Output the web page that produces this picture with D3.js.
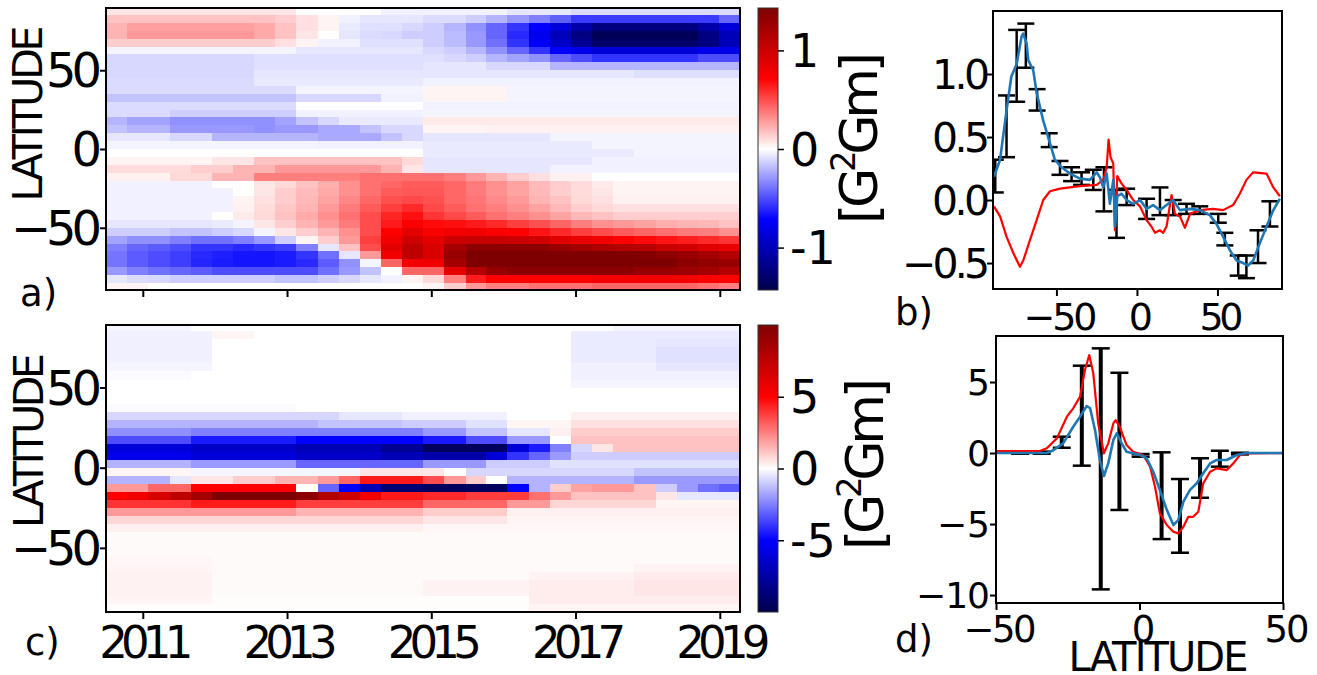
<!DOCTYPE html>
<html><head><meta charset="utf-8">
<script src="https://cdn.jsdelivr.net/npm/d3@7"></script>
<style>body{margin:0;background:#fff}svg text{font-family:"DejaVu Sans",sans-serif;fill:#000}</style>
</head><body><svg id="chart" width="1317" height="675"></svg>
<script>
// ---- data ----
const years = [2010.64,2010.93,2011.22,2011.52,2011.81,2012.10,2012.40,2012.69,2012.98,2013.27,2013.57,2013.86,2014.15,2014.45,2014.74,2015.03,2015.32,2015.62,2015.91,2016.20,2016.50,2016.79,2017.08,2017.38,2017.67,2017.96,2018.26,2018.55,2018.84,2019.14];
const lats = [87.5,82.5,77.5,72.5,67.5,62.5,57.5,52.5,47.5,42.5,37.5,32.5,27.5,22.5,17.5,12.5,7.5,2.5,-2.5,-7.5,-12.5,-17.5,-22.5,-27.5,-32.5,-37.5,-42.5,-47.5,-52.5,-57.5,-62.5,-67.5,-72.5,-77.5,-82.5,-87.5];
const yearTicks = [2011,2013,2015,2017,2019];
const latTicks = [50,0,-50];
const cbTicksA = [1,0,-1];
const cbTicksC = [5,0,-5];
const cbMaxA = 1.43, cbMaxC = 10;

const aValues = [
[.07,.07,.07,.07,.07,.07,.07,.07,.07,0,0,0,0,-.04,-.04,-.04,-.04,-.04,-.04,-.07,-.07,-.07,-.1,-.1,-.1,-.1,-.1,-.1,-.1,-.1],
[.17,.17,.17,.17,.17,.17,.17,.17,.14,.09,.03,-.04,-.07,-.07,-.07,-.1,-.1,-.14,-.21,-.29,-.36,-.45,-.55,-.55,-.55,-.55,-.55,-.55,-.55,-.43],
[.21,.27,.27,.27,.27,.27,.27,.24,.17,.09,.03,-.06,-.09,-.09,-.11,-.14,-.21,-.31,-.43,-.57,-.72,-.86,-1.07,-1.22,-1.22,-1.22,-1.22,-1.22,-1.07,-.86],
[.21,.29,.29,.29,.29,.29,.29,.24,.17,.07,0,-.07,-.1,-.11,-.14,-.14,-.19,-.29,-.43,-.6,-.79,-1,-1.22,-1.39,-1.39,-1.39,-1.39,-1.39,-1.22,-1],
[.14,.14,.14,.14,.14,.14,.14,.14,.09,.03,-.04,-.04,-.09,-.09,-.09,-.14,-.19,-.29,-.4,-.57,-.74,-.93,-1.14,-1.32,-1.32,-1.32,-1.32,-1.32,-1.22,-1],
[-.03,-.03,-.03,-.03,-.03,-.03,-.03,-.03,-.03,-.07,-.07,-.07,-.07,-.07,-.07,-.11,-.14,-.21,-.31,-.43,-.57,-.72,-.79,-.86,-.86,-.86,-.86,-.86,-.79,-.79],
[-.11,-.11,-.11,-.11,-.11,-.11,-.11,-.09,-.09,-.09,-.09,-.09,-.09,-.09,-.09,-.09,-.11,-.14,-.21,-.26,-.31,-.43,-.5,-.57,-.57,-.57,-.57,-.57,-.5,-.5],
[-.11,-.11,-.11,-.11,-.11,-.11,-.11,-.09,-.09,-.09,-.09,-.09,-.09,-.09,-.09,-.07,-.07,-.07,-.11,-.11,-.11,-.21,-.21,-.21,-.21,-.21,-.21,-.21,-.21,-.21],
[-.11,-.11,-.11,-.11,-.11,-.11,-.11,-.07,-.07,-.07,-.07,-.07,-.07,-.07,-.07,-.07,-.07,-.07,-.07,-.07,-.07,-.07,-.07,-.07,-.07,-.09,-.09,-.09,-.09,-.09],
[-.1,-.1,-.1,-.1,-.1,-.1,-.1,-.06,-.06,-.06,-.06,-.06,-.06,-.06,-.06,-.04,-.04,-.04,-.04,-.04,-.04,-.04,-.04,-.04,-.04,-.04,-.04,-.04,-.04,-.04],
[-.1,-.1,-.1,-.1,-.1,-.1,-.1,-.1,-.1,-.03,-.03,-.03,-.03,-.03,-.03,.03,.03,.03,.03,-.03,-.03,-.03,-.03,-.03,-.03,-.03,-.03,-.03,-.03,-.03],
[-.17,-.17,-.17,-.17,-.17,-.17,-.17,-.17,-.17,-.11,-.11,-.11,-.11,-.04,-.04,.03,.03,.03,.03,-.03,-.03,-.03,-.03,-.03,-.03,-.03,-.03,-.03,-.03,-.03],
[-.1,-.1,-.1,-.1,-.1,-.1,-.1,-.1,-.1,0,0,0,0,0,0,-.04,-.04,-.04,-.04,-.04,-.04,-.04,-.04,-.04,-.04,-.04,-.04,-.04,-.04,-.04],
[-.1,-.1,-.1,-.14,-.14,-.14,-.14,-.14,-.14,-.04,-.04,-.04,-.04,-.04,-.04,-.03,-.03,-.03,-.03,-.03,-.03,-.03,-.03,-.03,-.03,-.03,-.03,-.03,-.03,-.03],
[-.21,-.26,-.26,-.31,-.31,-.31,-.31,-.31,-.26,-.17,-.11,-.06,-.06,-.06,-.06,.06,.06,.06,.06,.06,.06,.06,.06,.06,.06,.06,.06,.06,.06,.06],
[-.17,-.21,-.21,-.29,-.29,-.29,-.29,-.31,-.29,-.29,-.24,-.24,-.17,-.11,-.11,.03,.03,.03,.04,.04,.04,.04,.04,.04,.04,.04,.04,.04,.04,.04],
[-.07,-.07,-.07,-.11,-.11,-.21,-.21,-.21,-.21,-.21,-.24,-.24,-.24,-.17,-.11,-.07,-.07,-.07,-.07,-.07,-.07,-.03,-.03,-.03,-.03,-.03,-.03,-.03,-.03,-.03],
[-.03,-.03,-.03,-.03,-.03,-.03,-.03,-.03,-.03,-.03,-.04,-.04,-.04,-.04,-.04,-.06,-.06,-.06,-.06,-.06,-.06,-.06,-.06,-.03,-.03,-.03,-.03,-.03,-.03,-.03],
[0,0,0,0,0,0,0,0,0,0,0,0,0,0,0,-.06,-.06,-.06,-.06,-.06,-.06,-.06,-.06,-.06,-.06,-.03,-.03,-.03,-.03,-.03],
[.03,.03,.03,.03,.03,.07,.07,.17,.17,.17,.17,.17,.17,.17,.11,-.07,-.07,-.07,-.07,-.07,-.07,-.07,-.07,-.04,-.04,-.04,-.04,-.04,-.04,-.04],
[.1,.1,.1,.1,.14,.14,.21,.21,.29,.29,.29,.29,.29,.21,.07,-.07,-.07,-.07,-.07,-.07,-.07,-.04,-.04,-.04,-.04,-.04,-.04,-.04,-.04,-.04],
[.04,.04,.04,.11,.11,.21,.21,.36,.36,.36,.36,.36,.4,.4,.4,.4,.36,.29,.21,.14,.09,.04,.04,0,0,0,0,0,0,0],
[-.04,-.04,-.04,-.04,-.04,0,0,.07,.11,.17,.23,.31,.4,.43,.46,.46,.43,.37,.31,.26,.19,.14,.1,.06,.03,.03,.03,.03,.03,.03],
[-.04,-.04,-.04,-.04,-.04,-.04,0,.07,.14,.19,.24,.31,.4,.46,.47,.47,.43,.37,.31,.26,.2,.14,.1,.07,.03,.03,.03,.03,.03,.03],
[-.04,-.04,-.04,-.04,-.04,-.04,.03,.09,.14,.2,.26,.34,.43,.49,.51,.49,.43,.39,.33,.29,.21,.17,.11,.09,.04,.04,.04,.04,.04,.04],
[-.04,-.04,-.04,-.04,-.04,-.04,.04,.1,.16,.21,.29,.37,.46,.54,.6,.51,.46,.4,.36,.31,.26,.2,.14,.11,.09,.09,.09,.09,.09,.09],
[-.04,-.04,-.04,-.04,-.04,0,.06,.11,.17,.24,.31,.4,.5,.61,.67,.57,.51,.46,.4,.36,.31,.26,.2,.17,.14,.14,.14,.14,.14,.14],
[-.07,-.07,-.07,-.07,-.07,-.06,-.03,.07,.14,.21,.29,.37,.5,.64,.74,.69,.67,.64,.6,.54,.49,.43,.36,.31,.29,.26,.23,.21,.2,.17],
[-.14,-.14,-.14,-.17,-.17,-.14,-.11,-.03,.07,.14,.21,.31,.5,.72,.86,.74,.79,.79,.74,.72,.66,.6,.54,.5,.46,.43,.4,.37,.36,.31],
[-.26,-.31,-.31,-.36,-.4,-.4,-.36,-.29,-.14,.03,.14,.29,.54,.79,.97,.86,1,1.03,1.03,1,.97,.89,.83,.79,.72,.69,.66,.63,.6,.57],
[-.36,-.43,-.46,-.5,-.57,-.57,-.6,-.57,-.54,-.36,-.07,.17,.5,.86,1.07,.93,1.22,1.36,1.36,1.36,1.36,1.29,1.22,1.17,1.14,1.12,1.03,.97,.89,.83],
[-.39,-.46,-.5,-.54,-.6,-.63,-.66,-.66,-.64,-.57,-.4,-.07,.29,.79,1.07,.93,1.29,1.43,1.43,1.43,1.43,1.43,1.43,1.43,1.43,1.4,1.36,1.29,1.22,1.14],
[-.39,-.46,-.5,-.54,-.61,-.64,-.66,-.66,-.64,-.6,-.46,-.31,-.03,.43,.79,.79,1.22,1.43,1.43,1.43,1.43,1.43,1.43,1.43,1.43,1.43,1.43,1.36,1.32,1.29],
[-.29,-.36,-.4,-.43,-.46,-.5,-.5,-.5,-.5,-.5,-.4,-.29,-.17,0,.43,.43,.86,1.14,1.29,1.36,1.36,1.36,1.36,1.36,1.36,1.29,1.29,1.26,1.22,1.14],
[-.07,-.1,-.11,-.14,-.14,-.14,-.14,-.14,-.17,-.17,-.14,-.11,-.07,-.04,.03,.11,.36,.64,.72,.72,.72,.72,.72,.79,.79,.79,.79,.79,.72,.72],
[.03,.03,0,0,0,0,0,0,0,0,0,0,0,0,0,.03,.14,.29,.36,.36,.4,.4,.4,.43,.43,.43,.43,.43,.4,.36]
];

const cValues = [
[-.2,-.2,-.2,-.2,0,0,0,0,0,0,0,0,0,0,0,0,0,0,0,0,0,0,0,0,-.2,-.2,-.2,-.2,-.2,-.2],
[-.3,-.3,-.3,-.3,-.3,.2,.2,0,0,0,0,0,0,0,0,0,0,0,0,0,0,0,-.4,-.4,-.4,-.4,-.4,-.4,-.4,-.4],
[-.3,-.3,-.3,-.3,-.3,0,0,0,0,0,0,0,0,0,0,0,0,0,0,0,0,0,-.4,-.4,-.4,-.4,-.5,-.5,-.5,-.5],
[-.3,-.3,-.3,-.3,-.3,0,0,0,0,0,0,0,0,0,0,0,0,0,0,0,0,0,-.4,-.4,-.4,-.4,-.6,-.6,-.6,-.6],
[-.3,-.3,-.3,-.3,-.3,0,0,0,0,0,0,0,0,0,0,0,0,0,0,0,0,0,-.4,-.4,-.4,-.4,-.6,-.6,-.6,-.6],
[-.2,-.2,-.2,-.2,-.2,0,0,0,0,0,0,0,0,0,0,0,0,0,0,0,0,0,-.3,-.3,-.3,-.3,-.5,-.5,-.5,-.5],
[-.1,-.1,-.1,-.1,0,0,0,0,0,0,0,0,0,0,0,0,0,0,0,0,0,0,-.3,-.3,-.3,-.3,-.3,-.3,-.3,-.3],
[0,0,0,0,0,0,0,0,0,0,0,0,0,0,0,0,0,0,0,0,0,0,-.2,-.2,-.2,-.2,-.2,-.2,-.2,-.2],
[0,0,0,0,0,0,0,0,0,0,0,0,0,0,0,0,0,0,0,0,0,0,0,0,0,0,0,0,0,0],
[0,0,0,0,0,0,0,0,0,0,0,0,0,0,0,0,0,0,0,0,0,0,0,0,0,0,0,0,0,0],
[-.1,-.1,-.1,-.1,-.1,-.1,-.1,-.1,-.1,0,0,0,0,0,0,0,0,0,0,0,0,0,0,0,0,0,0,0,0,0],
[-.8,-.8,-.8,-.8,-.8,-.8,-.8,-.8,-.8,-.8,-.8,-.5,-.5,-.5,-.3,-.3,-.3,-.3,-.3,0,0,0,.3,.3,.3,.3,.3,.3,.3,.3],
[-1.5,-1.5,-1.5,-1.5,-1.5,-1.5,-1.5,-1.5,-1.5,-1.5,-1.2,-1.2,-1.2,-1.2,-1,-1,-1,-.6,-.6,.2,.2,.2,.6,.6,.6,.6,.6,.6,.6,.6],
[-2.2,-2.2,-2.2,-2.2,-2.5,-2.5,-2.5,-2.5,-2.5,-2.5,-2.5,-2.5,-2.5,-2.5,-2.5,-2,-2,-1.2,-1.2,-.5,-.5,.3,1,1,1,1,1,1,1,1],
[-3.5,-3.5,-3.5,-3.5,-4.5,-4.5,-4.5,-4.5,-4.5,-5,-5,-5,-5,-5,-5,-4.5,-4.5,-3.5,-3.5,-2,-2,0,1.2,1.2,1.2,1.2,1.2,1.2,1.2,1.2],
[-6,-6,-6,-6,-6.5,-6.5,-6.5,-6.5,-6.5,-7,-7,-7,-7,-8,-8,-9.5,-9.5,-9.5,-9.5,-6,-4.5,-2.5,-.8,.5,1.2,1.2,1.2,1.2,1.2,1.2],
[-5.5,-5.5,-5.5,-5.5,-6,-6,-6,-6,-6,-6.5,-6.5,-6.5,-6.5,-7,-7,-7.5,-7.5,-7.5,-6,-4,-3,-2,-1,-1,-1,-1,-1,-1,-1,-1],
[-1.5,-1.5,-1.5,-1.5,-2,-2,-2,-2,-2,-3,-3,-3,-3,-3,-3,-2,-2,-2,-1,-1,-1,-.6,-.6,-.6,-.6,-.6,-.6,-.6,-.6,-.6],
[.2,.2,.2,.2,-.2,-.2,-.2,-.2,-.2,-.2,-.2,-.2,.5,.5,.5,.5,0,-.8,-.8,-.8,-.8,-.8,-.8,-.8,-.8,-1.2,-1.2,-1.2,-1.2,-1.2],
[-1.5,-1.5,-1.5,-.5,.5,.5,1,1,1.5,1.5,2,3,4.5,4.5,4.5,3.5,2,1,0,-1.5,-1.5,-1.5,-1.5,-1.5,-1.5,-2,-2,-2,-2,-2],
[2,2,3,3,5,5,5,5,5,0,-3,-5,-7,-9,-9,-9.5,-9.5,-9.5,-9.5,-5,-1.5,1,1.8,2,2,1.2,-1,-2,-2.8,-3.2],
[5,5.5,6.5,7.5,8.5,10,10,10,10,9.5,8,7,5.5,4.5,4.5,4.2,4.2,3.8,3.8,3.8,2.8,2,1.2,1.2,1.2,1.2,.5,-.5,-.5,-.5],
[4,4,4,4,4.5,4.5,4.5,4.5,4.5,3.8,3.8,3.8,3.8,3.8,3.8,3,3,3,3,2,2,.8,.8,.8,.8,.8,.2,.2,.2,.2],
[2,2,2,2,2,2,2,2,2,1.5,1.5,1.5,1.5,1.5,1.5,1,1,1,1,.3,.3,.3,.3,.3,.3,.3,.3,.3,.3,.3],
[.8,.8,.8,.8,.8,.8,.8,.8,.8,.8,.8,.8,.8,.8,.8,.5,.5,.5,.5,.2,.2,.2,.2,.2,.2,.2,.2,.2,.2,.2],
[.3,.3,.3,.3,.3,.3,.3,.3,.3,.3,.3,.3,.3,.3,.3,.15,.15,.15,.15,.15,.15,.15,.15,.15,.15,.15,.15,.15,.15,.15],
[.1,.1,.1,.1,.1,.1,.1,.1,.1,.1,.1,.1,.1,.1,.1,.1,.1,.1,.1,.1,.1,.1,.1,.1,.1,.1,.1,.1,.1,.1],
[.1,.1,.1,.1,.1,.1,.1,.1,.1,.1,.1,.1,.1,.1,.1,.1,.1,.1,.1,.1,.1,.1,.1,.1,.1,.1,.1,.1,.1,.1],
[.1,.1,.1,.1,.1,.1,.1,.1,.1,.1,.1,.1,.1,.1,.1,.1,.1,.1,.1,.1,.1,.1,.1,.1,.1,.1,.1,.1,.1,.1],
[.15,.15,.15,.15,.15,.1,.1,.1,.1,.1,.1,.1,.1,.1,.1,.1,.1,.1,.1,.1,.1,.1,.1,.1,.1,.1,.1,.1,.1,.1],
[.2,.2,.2,.2,.2,.1,.1,.1,.1,.1,.1,.1,.1,.1,.1,.1,.1,.1,.1,.1,.1,.1,.1,.1,.1,.25,.25,.25,.25,.25],
[.25,.25,.25,.25,.25,.1,.1,.1,.1,.1,.1,.1,.1,.1,.1,.1,.1,.1,.1,.1,.25,.25,.25,.25,.25,.4,.4,.4,.4,.4],
[.25,.25,.25,.25,.25,.1,.1,.1,.1,.1,.1,.1,.1,.1,.1,.25,.25,.25,.25,.25,.35,.35,.35,.35,.35,.5,.5,.5,.5,.5],
[.25,.25,.25,.25,.25,.1,.1,.1,.1,.1,.1,.1,.1,.1,.1,.25,.25,.25,.25,.25,.35,.35,.35,.35,.35,.5,.5,.5,.5,.5],
[.2,.2,.2,.2,.2,.05,.05,.05,.05,.05,.05,.05,.05,.05,.05,.05,.05,.05,.05,.05,.35,.35,.35,.35,.35,.35,.35,.35,.35,.35],
[.05,.05,.05,.05,.05,.05,.05,.05,.05,.05,.05,.05,.05,.05,.05,.05,.05,.05,.05,.05,.2,.2,.2,.2,.2,.2,.2,.2,.2,.2]
];

// panel b
const bBlueLat = [-88.8,-85,-81,-78,-74.7,-71.6,-70.6,-68.5,-67.5,-64.4,-62.3,-58.2,-54,-51,-46.8,-41.6,-35.4,-29.2,-25,-23,-20.9,-18.8,-16.8,-14.7,-13.5,-12.2,-9.5,-6.4,-2.3,1.9,6,10,14.3,18.4,22.5,26.7,33,39,45.3,49.4,53.5,57.8,61.9,66,69,72.2,76.4,80.5,84.7,88.8];
const bBlueVal = [0.185,0.32,0.71,0.98,1.08,1.30,1.32,1.24,1.11,1.03,0.85,0.63,0.45,0.32,0.26,0.21,0.17,0.16,0.22,0.18,0.1,0.21,-0.03,0.16,-0.21,0.03,0.05,0.0,-0.03,0.0,-0.07,-0.04,-0.08,-0.04,0.0,-0.08,-0.07,-0.08,-0.12,-0.19,-0.29,-0.4,-0.48,-0.5,-0.52,-0.48,-0.34,-0.21,-0.08,0.01];
const bRedLat = [-88.8,-85,-81,-76.8,-72.7,-70.6,-66.5,-62.3,-58.2,-54,-47.8,-35.4,-25,-20.9,-18.8,-17.6,-16.4,-14.7,-13.7,-12.2,-9.5,-6.4,-2.3,1.9,6,9,11.2,14.3,16.3,18.4,21.5,23.6,26.7,29.8,33,39,47.3,53.5,59.7,63.9,68,72.2,80.5,84.7,88.8];
const bRedVal = [-0.05,-0.13,-0.29,-0.42,-0.53,-0.48,-0.32,-0.16,0.0,0.07,0.09,0.11,0.12,0.16,0.26,0.48,0.34,0.29,-0.24,0.19,0.13,0.08,0.0,-0.05,-0.16,-0.21,-0.26,-0.24,-0.26,-0.21,0.04,-0.11,-0.13,-0.22,-0.11,-0.08,-0.07,-0.08,-0.04,0.05,0.16,0.22,0.21,0.1,0.03];
const bErrLat = [-88,-81,-74.7,-69,-62,-54.5,-47.8,-40.6,-34.4,-27.1,-20.5,-12.7,-6.4,6,14.3,22.5,30.8,39,50.5,54.6,62.9,68,75.2,82.6];
const bErrHi = [0.32,0.83,1.35,1.40,0.88,0.53,0.31,0.26,0.22,0.24,0.26,0.08,0.09,0.01,0.10,0.0,-0.03,-0.05,-0.11,-0.26,-0.44,-0.44,-0.24,-0.01];
const bErrLo = [0.06,0.34,0.78,1.05,0.71,0.42,0.20,0.15,0.12,0.08,-0.09,-0.30,-0.04,-0.15,-0.12,-0.12,-0.11,-0.11,-0.18,-0.36,-0.60,-0.62,-0.50,-0.21];
const bXTicks = [-50,0,50];
const bYTicks = [1.0,0.5,0.0,-0.5];

// panel d
const dBlueLat = [-50,-32.3,-30,-26.6,-23.1,-20.7,-18.4,-17.2,-15.5,-13.8,-12.4,-10.9,-9.1,-7.9,-6.2,-4.5,0.2,2.5,4.8,7.1,9.5,11.8,13.5,15.3,17.6,19.9,22.2,24.6,26.9,30.4,33.9,37.3,50];
const dBlueVal = [0,0,0.2,0.68,1.85,2.56,3.31,3.15,1.62,-0.49,-1.62,-0.73,0.92,1.39,0.68,0.09,-0.14,-0.37,-1.32,-2.6,-4.0,-5.07,-4.72,-3.43,-2.6,-2.14,-1.43,-0.73,-0.49,-0.49,-0.14,0,0];
const dRedLat = [-50,-34.7,-32.3,-28.8,-25.3,-23.1,-20.7,-19.0,-17.5,-16.1,-14.4,-12.4,-10.9,-9.1,-8.3,-6.9,-4.5,-2.2,1.3,3.7,5.4,7.1,9.5,11.8,13.5,15.3,17.0,18.7,20.5,22.2,24.6,26.9,30.4,32.7,35.0,37.3,50];
const dRedVal = [0.14,0.14,0.33,1.03,2.56,3.15,3.97,5.85,6.9,5.61,2.09,-0.02,0.68,2.09,2.32,1.85,0.56,0.09,-0.14,-0.96,-2.37,-4.25,-5.07,-5.54,-5.66,-5.19,-4.49,-4.49,-4.13,-2.14,-1.32,-1.08,-1.2,-0.73,-0.14,-0.02,0];
const dErrLat = [-41.6,-34.1,-27.1,-20.1,-13.5,-7.0,0.4,7.7,14.1,21.1,28,35];
const dErrHi = [0.05,0.1,1.15,6.15,7.37,5.65,-0.07,0.05,-1.83,-0.37,0.16,0.02];
const dErrLo = [-0.05,-0.05,0.37,-0.89,-9.6,-4.01,-0.26,-6.06,-7.02,-3.15,-0.96,-0.1];
const dXTicks = [-50,0,50];
const dYTicks = [5,0,-5,-10];

// ---- drawing ----
const svg = d3.select("#chart");
const fmtMinus = v => (v<0 ? "\u2212" : "") + Math.abs(v);

function txt(s, x, y, size, anchor, len, rot){
  const t = svg.append("text")
    .attr("transform", `translate(${x},${y})` + (rot ? " rotate(-90)" : ""))
    .attr("font-size", size).attr("text-anchor", anchor||"start").text(s);
  if (len) t.attr("textLength", len).attr("lengthAdjust","spacing");
  return t;
}
function seismic(V){
  return d3.scaleLinear().domain([-V,-V/2,0,V/2,V])
    .range(["#00004c","#0000ff","#ffffff","#ff0000","#7f0000"]).clamp(true);
}
const xT = d3.scaleLinear().domain([2010.49, 2019.28]).range([106, 740]);
const yA = d3.scaleLinear().domain([-89.5, 89.5]).range([290, 8]);
const yC = d3.scaleLinear().domain([-90, 89]).range([612, 325]);

function heat(values, yS, V, id){
  const top = yS.range()[1], bot = yS.range()[0];
  svg.append("clipPath").attr("id", id).append("rect")
    .attr("x", 106).attr("y", top).attr("width", 634).attr("height", bot-top);
  const col = seismic(V);
  const dt = years[1]-years[0], dl = lats[0]-lats[1];
  const g = svg.append("g").attr("clip-path", `url(#${id})`).attr("shape-rendering","crispEdges");
  values.forEach((row, j) => row.forEach((v, i) => {
    const x0 = Math.round(xT(years[i]-dt/2)), x1 = Math.round(xT(years[i]+dt/2));
    const y0 = Math.round(yS(lats[j]+dl/2)), y1 = Math.round(yS(lats[j]-dl/2));
    g.append("rect").attr("x", x0).attr("y", y0)
      .attr("width", x1-x0+1).attr("height", y1-y0+1).attr("fill", col(v));
  }));
  svg.append("rect").attr("x",106).attr("y",top).attr("width",634).attr("height",bot-top)
    .attr("fill","none").attr("stroke","#000").attr("stroke-width",2);
  const ya = svg.append("g").attr("transform","translate(106,0)")
    .call(d3.axisLeft(yS).tickValues(latTicks).tickSize(6).tickFormat(""));
  ya.select(".domain").remove();
  ya.selectAll("line").attr("stroke-width",2);
  latTicks.forEach(v => {
    const s = fmtMinus(v);
    txt(s, 102, yS(v)+17, 48, "end", s.length===1 ? null : (s.length===2 ? 56 : 91));
  });
  const xa = svg.append("g").attr("transform",`translate(0,${bot})`)
    .call(d3.axisBottom(xT).tickValues(yearTicks).tickSize(7).tickFormat(""));
  xa.select(".domain").remove();
  xa.selectAll("line").attr("stroke-width",2);
}
function colorbar(yS, V, ticks, id, labelY, labelX){
  const top = yS.range()[1], bot = yS.range()[0];
  const cb = d3.scaleLinear().domain([-V, V]).range([bot, top]);
  const grad = svg.append("defs").append("linearGradient").attr("id", id)
    .attr("x1",0).attr("y1",1).attr("x2",0).attr("y2",0);
  const col = seismic(V);
  [-1,-0.5,0,0.5,1].forEach(f => grad.append("stop").attr("offset", (f+1)/2).attr("stop-color", col(f*V)));
  svg.append("rect").attr("x",758).attr("y",top).attr("width",20).attr("height",bot-top)
    .attr("fill",`url(#${id})`).attr("stroke","#333").attr("stroke-width",1);
  const ax = svg.append("g").attr("transform","translate(778,0)")
    .call(d3.axisRight(cb).tickValues(ticks).tickSize(6).tickFormat(""));
  ax.select(".domain").remove();
  ax.selectAll("line").attr("stroke-width",1.5);
  ticks.forEach(v => txt(String(v), 790, cb(v)+16.5, 46, "start"));
  const t = txt("[G", labelX, labelY, 52, "middle", 172, true);
  t.append("tspan").attr("font-size", 34).attr("dy", -22).text("2");
  t.append("tspan").attr("dy", 22).text("Gm]");
}

heat(aValues, yA, cbMaxA, "clipA");
heat(cValues, yC, cbMaxC, "clipC");
colorbar(yA, cbMaxA, cbTicksA, "gradA", 138, 877);
colorbar(yC, cbMaxC, cbTicksC, "gradC", 464, 883);

yearTicks.forEach(v => txt(String(v), xT(v)+3.5, 658, 45, "middle", 94));
txt("LATITUDE", 42, 113.5, 41, "middle", 176, true);
txt("LATITUDE", 43, 440.5, 41, "middle", 175, true);

function linePanel(cfg){
  const {xS, yS, blueLat, blueVal, redLat, redVal, errLat, errHi, errLo, xTicks, yTicks, errW, capW} = cfg;
  const [x0,x1] = xS.range(), [y1,y0] = yS.range();
  svg.append("clipPath").attr("id", cfg.id).append("rect").attr("x",x0).attr("y",y0).attr("width",x1-x0).attr("height",y1-y0);
  const g = svg.append("g").attr("clip-path",`url(#${cfg.id})`);
  errLat.forEach((l,i) => {
    const x = xS(l);
    g.append("line").attr("x1",x).attr("x2",x).attr("y1",yS(errHi[i])).attr("y2",yS(errLo[i]))
      .attr("stroke","#000").attr("stroke-width",errW);
    [errHi[i], errLo[i]].forEach(v => g.append("line").attr("x1",x-capW/2).attr("x2",x+capW/2)
      .attr("y1",yS(v)).attr("y2",yS(v)).attr("stroke","#000").attr("stroke-width",2.5));
  });
  const line = d3.line().x(d => xS(d[0])).y(d => yS(d[1]));
  g.append("path").attr("d", line(redLat.map((l,i)=>[l,redVal[i]])))
    .attr("fill","none").attr("stroke","#ff0000").attr("stroke-width",2.2).attr("stroke-linejoin","round");
  g.append("path").attr("d", line(blueLat.map((l,i)=>[l,blueVal[i]])))
    .attr("fill","none").attr("stroke","#1f77b4").attr("stroke-width",2.6).attr("stroke-linejoin","round");
  svg.append("rect").attr("x",x0).attr("y",y0).attr("width",x1-x0).attr("height",y1-y0)
    .attr("fill","none").attr("stroke","#000").attr("stroke-width",2);
  const xa = svg.append("g").attr("transform",`translate(0,${y1})`)
    .call(d3.axisBottom(xS).tickValues(xTicks).tickSize(7).tickFormat(""));
  xa.select(".domain").remove(); xa.selectAll("line").attr("stroke-width",2);
  const ya = svg.append("g").attr("transform",`translate(${x0},0)`)
    .call(d3.axisLeft(yS).tickValues(yTicks).tickSize(6).tickFormat(""));
  ya.select(".domain").remove(); ya.selectAll("line").attr("stroke-width",2);
}
const xB = d3.scaleLinear().domain([-89.4, 90.1]).range([993, 1282]);
const yB = d3.scaleLinear().domain([-0.706, 1.5]).range([289, 11]);
const xD = d3.scaleLinear().domain([-50, 50]).range([996, 1283]);
const yD = d3.scaleLinear().domain([-10.56, 8.24]).range([603, 336]);

linePanel({id:"clipB", xS:xB, yS:yB, blueLat:bBlueLat, blueVal:bBlueVal, redLat:bRedLat, redVal:bRedVal,
  errLat:bErrLat, errHi:bErrHi, errLo:bErrLo, xTicks:bXTicks, yTicks:bYTicks, errW:2.5, capW:17});
linePanel({id:"clipD", xS:xD, yS:yD, blueLat:dBlueLat, blueVal:dBlueVal, redLat:dRedLat, redVal:dRedVal,
  errLat:dErrLat, errHi:dErrHi, errLo:dErrLo, xTicks:dXTicks, yTicks:dYTicks, errW:4, capW:18});

bYTicks.forEach(v => {
  const str = (v<0?"\u2212":"") + Math.abs(v).toFixed(1);
  txt(str, 990, yB(v)+14.8, 41, "end", v<0 ? 88 : 58);
});
bXTicks.forEach(v => {
  const s = fmtMinus(v);
  txt(s, xB(v)+4, 330, 38, "middle", s.length===1 ? null : (s.length===2 ? 44 : 74));
});
dYTicks.forEach(v => {
  const s = fmtMinus(v);
  txt(s, 990, yD(v)+13, 36, "end", s.length===1 ? null : (s.length===2 ? 53 : 74));
});
dXTicks.forEach(v => {
  const s = fmtMinus(v);
  txt(s, xD(v)+4, 642, 37, "middle", s.length===1 ? null : (s.length===2 ? 45 : 73));
});
txt("LATITUDE", 1158.5, 671, 40, "middle", 180);

txt("a)", 20, 306, 37, "start");
txt("b)", 895, 325, 37, "start");
txt("c)", 25, 655, 37, "start");
txt("d)", 895, 652, 37, "start");
</script></body></html>
